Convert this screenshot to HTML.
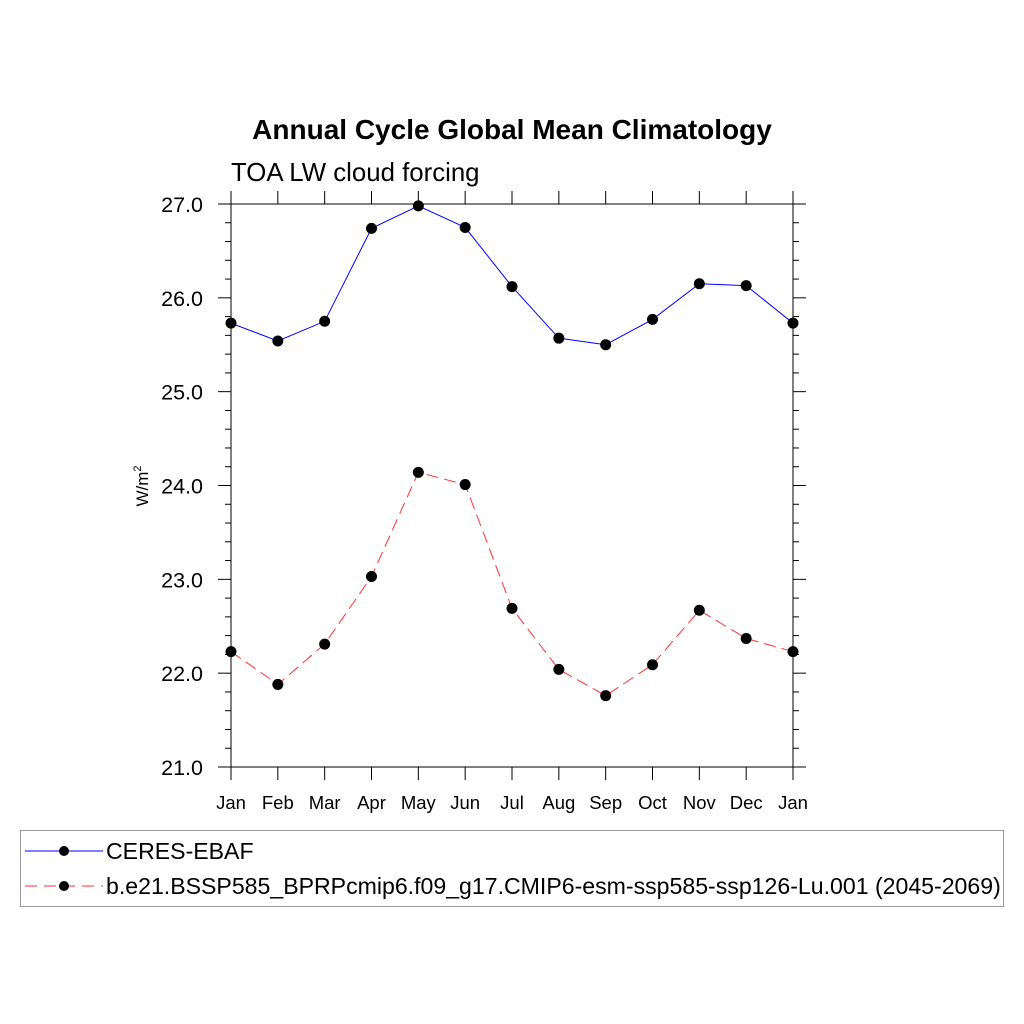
<!DOCTYPE html>
<html><head><meta charset="utf-8"><style>
body{margin:0;background:#fff;}
svg{display:block;font-family:"Liberation Sans",Arial,sans-serif;}
</style></head><body>
<svg id="chart" width="1024" height="1024" viewBox="0 0 1024 1024">
<text x="512" y="139" text-anchor="middle" font-size="28" font-weight="bold">Annual Cycle Global Mean Climatology</text>
<text x="231" y="181" font-size="25.8">TOA LW cloud forcing</text>
<text transform="translate(148,486) rotate(-90)" text-anchor="middle" font-size="17">W/m<tspan dy="-7" font-size="11">2</tspan></text>
<g id="axes"></g>
<g id="series"></g>
<g>
<rect x="20.5" y="830.5" width="983" height="76" fill="none" stroke="#999" stroke-width="1"/>
<g>
<line x1="25" y1="851" x2="103" y2="851" stroke="#00f" stroke-width="1"/>
<circle cx="64" cy="851" r="5" fill="#000"/>
<text x="106" y="859" font-size="23.1">CERES-EBAF</text>
</g>
<g>
<line x1="25" y1="886" x2="103" y2="886" stroke="#f33" stroke-width="1" stroke-dasharray="12,7"/>
<circle cx="64" cy="886" r="5" fill="#000"/>
<text x="106" y="894" font-size="23.1">b.e21.BSSP585_BPRPcmip6.f09_g17.CMIP6-esm-ssp585-ssp126-Lu.001 (2045-2069)</text>
</g>
</g>
</svg>
<script>
const months = ["Jan","Feb","Mar","Apr","May","Jun","Jul","Aug","Sep","Oct","Nov","Dec","Jan"];
const ceres = [25.73,25.54,25.75,26.74,26.98,26.75,26.12,25.57,25.50,25.77,26.15,26.13,25.73];
const model = [22.23,21.88,22.31,23.03,24.14,24.01,22.69,22.04,21.76,22.09,22.67,22.37,22.23];
const yTicks = [21.0,22.0,23.0,24.0,25.0,26.0,27.0];
const NS="http://www.w3.org/2000/svg";
const X0=231,X1=793,Y0=767,Y1=204,YMIN=21,YMAX=27;
const xs=i=>X0+(X1-X0)*i/(months.length-1);
const ys=v=>Y0-(v-YMIN)/(YMAX-YMIN)*(Y0-Y1);
function mk(tag,attrs,parent){const e=document.createElementNS(NS,tag);for(const k in attrs)e.setAttribute(k,attrs[k]);parent.appendChild(e);return e;}
const ax=document.getElementById('axes');
const frame=mk('g',{},ax);


mk('line',{x1:X0-13,y1:Y1,x2:X1+13,y2:Y1,stroke:'#000'},frame);
mk('line',{x1:X0-13,y1:Y0,x2:X1+13,y2:Y0,stroke:'#000'},frame);
mk('line',{x1:X0,y1:Y1-13,x2:X0,y2:Y0+13,stroke:'#000'},frame);
mk('line',{x1:X1,y1:Y1-13,x2:X1,y2:Y0+13,stroke:'#000'},frame);
for(let v=YMIN;v<=YMAX+1e-9;v+=0.2){
  const y=ys(v);const major=Math.abs(v-Math.round(v))<1e-6;const L=major?13:6;
  mk('line',{x1:X0-L,y1:y,x2:X0,y2:y,stroke:'#000','stroke-width':1},ax);
  mk('line',{x1:X1,y1:y,x2:X1+L,y2:y,stroke:'#000','stroke-width':1},ax);
}
yTicks.forEach(v=>{
  const t=mk('text',{x:203,y:ys(v)+8,'text-anchor':'end','font-size':21.5},ax);
  t.textContent=v.toFixed(1);
  
  
});
months.forEach((m,i)=>{
  const x=xs(i);
  mk('line',{x1:x,y1:Y0,x2:x,y2:Y0+13,stroke:'#000','stroke-width':1},ax);
  mk('line',{x1:x,y1:Y1-13,x2:x,y2:Y1,stroke:'#000','stroke-width':1},ax);
  const t=mk('text',{x:x,y:809,'text-anchor':'middle','font-size':18.5},ax);
  t.textContent=m;
  
  
});
const sg=document.getElementById('series');
function draw(vals,color,dash,name){
  const g=mk('g',{},sg);
  
  
  const p=mk('polyline',{points:vals.map((v,i)=>xs(i)+','+ys(v)).join(' '),fill:'none',stroke:color,'stroke-width':1},g);
  if(dash)p.setAttribute('stroke-dasharray',dash);
  vals.forEach((v,i)=>{
    const c=mk('circle',{cx:xs(i),cy:ys(v),r:5.5,fill:'#000'},g);
    
    
  });
}
draw(ceres,'#00f',null,'series-ceres');
draw(model,'#f33','12,6','series-model');
</script>
</body></html>
